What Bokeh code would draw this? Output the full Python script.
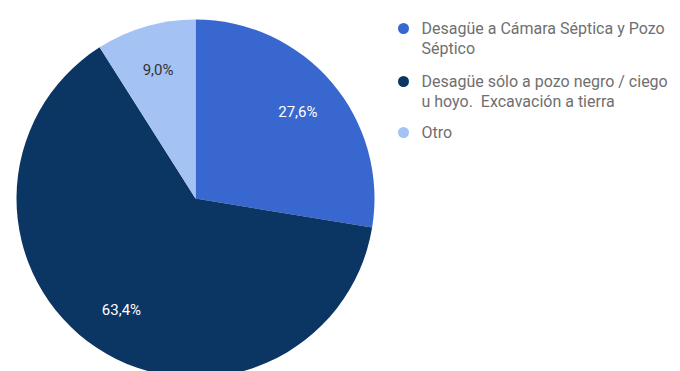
import numpy as np
from bokeh.plotting import figure
from bokeh.models import ColumnDataSource
from bokeh.core.properties import value
from bokeh.embed import file_html
from bokeh.resources import INLINE

categories = ["Desagüe a Cámara Séptica y Pozo\nSéptico",
              "Desagüe sólo a pozo negro / ciego\nu hoyo.\u00a0 Excavación a tierra",
              "Otro"]
values = [27.6, 63.4, 9.0]
pct_labels = ["27,6%", "63,4%", "9,0%"]
colors = ["#3867cf", "#0b3563", "#a5c2f4"]
label_colors = ["#ffffff", "#ffffff", "#333333"]

W, H = 680, 371
p = figure(width=W, height=H, x_range=(0, W), y_range=(0, H),
           output_backend="svg", toolbar_location=None, min_border=0)
p.axis.visible = False
p.grid.visible = False
p.outline_line_color = None
p.background_fill_color = "white"
p.border_fill_color = "white"

cx, cy, R = 195, H - 198, 179
vals = np.array(values)
frac = vals / vals.sum()
ends_cum = np.cumsum(frac)
starts_cum = ends_cum - frac
start_ang = np.pi / 2 - 2 * np.pi * starts_cum
end_ang = np.pi / 2 - 2 * np.pi * ends_cum
mid_ang = (start_ang + end_ang) / 2

src = ColumnDataSource(dict(start=start_ang, end=end_ang, color=colors,
                            lx=cx + 0.75 * R * np.cos(mid_ang),
                            ly=cy + 0.75 * R * np.sin(mid_ang),
                            lab=pct_labels, lc=label_colors))
p.wedge(x=cx, y=cy, radius=R, start_angle="start", end_angle="end",
        direction="clock", fill_color="color", line_color="white", line_width=0, source=src)
p.text(x="lx", y="ly", text="lab", text_color="lc", text_font=value("Roboto"),
       text_font_size="15px", text_align="center", text_baseline="middle", source=src)

# legend
leg_y = [H - 28, H - 81, H - 132]
leg_src = ColumnDataSource(dict(x=[403] * 3, y=leg_y, color=colors,
                                tx=[421] * 3, ty=[yy + 10 for yy in leg_y], lab=categories))
p.scatter(x="x", y="y", size=11, marker="circle", fill_color="color", line_color=None, source=leg_src)
p.text(x="tx", y="ty", text="lab", text_color="#6f6f6f", text_font=value("Roboto"),
       text_font_size="16px", text_align="left", text_baseline="top",
       text_line_height=1.1, source=leg_src)

open("out.html", "w").write(file_html(p, INLINE))
